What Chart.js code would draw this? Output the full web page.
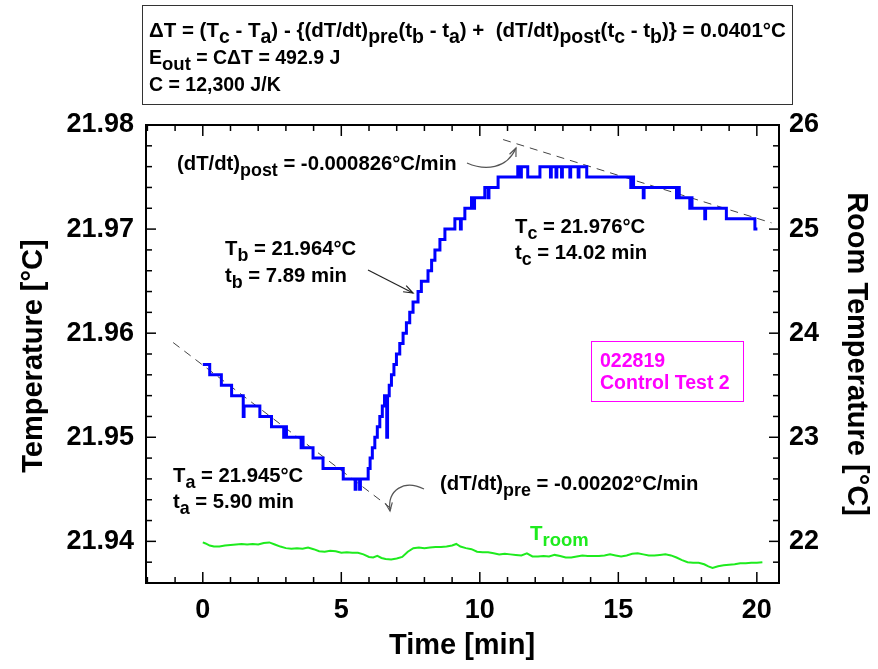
<!DOCTYPE html>
<html><head><meta charset="utf-8">
<script src="https://cdn.jsdelivr.net/npm/chart.js@4.4.1/dist/chart.umd.min.js"></script>
<style>html,body{margin:0;padding:0;background:#fff;}#wrap{width:878px;height:669px;}</style>
</head><body><div id="wrap"><canvas id="c" width="878" height="669"></canvas></div>
<script>
// ---- data ----
const tempTime = [0.00,0.25,0.67,1.04,1.46,1.49,2.06,2.48,2.92,2.95,3.02,3.55,3.58,3.62,3.98,4.34,5.07,5.50,5.53,5.66,5.69,
  5.97,6.04,6.12,6.21,6.30,6.39,6.48,6.56,6.64,6.67,6.73,6.81,6.90,6.99,7.11,7.23,7.35,7.47,7.59,7.77,7.89,8.13,8.26,8.38,8.56,8.74,
  9.10,9.30,9.33,9.46,9.70,9.78,9.81,10.18,10.30,10.33,10.66,11.37,11.45,11.50,11.73,12.17,12.55,12.58,12.75,12.78,12.95,12.98,
  13.25,13.28,13.55,13.58,13.86,15.45,15.50,15.55,15.90,15.93,17.10,17.15,17.20,17.58,17.62,17.66,18.12,18.15,18.90,19.93,20.02];
const tempValue = [21.957,21.956,21.955,21.954,21.952,21.953,21.952,21.951,21.950,21.951,21.950,21.949,21.950,21.949,21.948,21.947,21.946,21.945,21.946,21.945,21.946,
  21.947,21.948,21.949,21.950,21.951,21.952,21.953,21.954,21.950,21.954,21.955,21.956,21.957,21.958,21.959,21.960,21.961,21.962,21.963,21.964,21.965,21.966,21.967,21.968,21.969,21.970,
  21.971,21.970,21.971,21.972,21.973,21.972,21.973,21.974,21.973,21.974,21.975,21.976,21.975,21.976,21.975,21.976,21.975,21.976,21.975,21.976,21.975,21.976,
  21.975,21.976,21.975,21.976,21.975,21.974,21.975,21.974,21.973,21.974,21.973,21.974,21.973,21.972,21.973,21.972,21.971,21.972,21.971,21.970,21.970];
const roomTime = [0.00,0.10,0.25,0.40,0.60,0.80,1.00,1.20,1.40,1.60,1.80,2.00,2.20,2.40,2.60,2.80,3.00,3.20,3.40,3.60,3.80,4.00,4.20,4.40,4.60,4.80,
  5.00,5.20,5.40,5.60,5.80,6.00,6.15,6.30,6.45,6.60,6.80,7.00,7.20,7.40,7.60,7.80,8.00,8.20,8.40,8.60,8.80,9.00,9.15,9.30,9.50,9.70,9.90,
  10.10,10.30,10.50,10.70,10.90,11.10,11.30,11.50,11.70,11.90,12.10,12.30,12.50,12.70,12.90,13.10,13.30,13.50,13.70,13.90,14.10,14.30,14.50,14.70,14.90,
  15.10,15.30,15.50,15.70,15.90,16.10,16.30,16.50,16.70,16.90,17.10,17.30,17.50,17.70,17.90,18.10,18.25,18.40,18.60,18.80,19.00,19.20,19.40,19.60,19.80,20.00,20.20];
const roomValue = [21.99,21.98,21.96,21.95,21.95,21.96,21.965,21.97,21.975,21.97,21.975,21.97,21.985,21.99,21.97,21.95,21.935,21.93,21.935,21.93,21.94,21.925,21.905,21.90,21.91,21.905,
  21.89,21.895,21.89,21.89,21.875,21.85,21.845,21.86,21.84,21.83,21.825,21.835,21.85,21.90,21.935,21.94,21.935,21.94,21.945,21.945,21.95,21.96,21.975,21.95,21.935,21.925,21.90,
  21.895,21.895,21.885,21.875,21.88,21.875,21.87,21.865,21.885,21.855,21.855,21.86,21.855,21.87,21.86,21.845,21.845,21.855,21.865,21.86,21.86,21.86,21.865,21.875,21.865,
  21.855,21.865,21.88,21.885,21.875,21.865,21.865,21.87,21.875,21.865,21.845,21.82,21.80,21.795,21.795,21.78,21.76,21.745,21.76,21.77,21.775,21.78,21.79,21.79,21.795,21.795,21.80];
const preFitTime = [-1.07, 6.93];
const preFitValue = [21.9591, 21.9429];
const postFitTime = [10.84, 20.53];
const postFitValue = [21.9786, 21.9706];
const xTicks = [0,5,10,15,20];
const xTickLabels = ['0','5','10','15','20'];
const yTicks = [21.94,21.95,21.96,21.97,21.98];
const yTickLabels = ['21.94','21.95','21.96','21.97','21.98'];
const y2Ticks = [22,23,24,25,26];
const y2TickLabels = ['22','23','24','25','26'];

const FF = '"Liberation Sans", Arial, Helvetica, sans-serif';
const pts = (xs, ys) => xs.map((x, i) => ({x: x, y: ys[i]}));

function rich(ctx, x, y, str, size, color, align, subScale) {
  const parts = [];
  const re = /_\{([^}]*)\}/g; let last = 0, m;
  while ((m = re.exec(str)) !== null) {
    if (m.index > last) parts.push([str.slice(last, m.index), false]);
    parts.push([m[1], true]); last = re.lastIndex;
  }
  if (last < str.length) parts.push([str.slice(last), false]);
  const ss = size * (subScale || 0.88), off = size * 0.3;
  let w = 0;
  for (const [t, s] of parts) { ctx.font = 'bold ' + (s ? ss : size) + 'px ' + FF; w += ctx.measureText(t).width; }
  let cx = align === 'center' ? x - w / 2 : x;
  ctx.fillStyle = color; ctx.textAlign = 'left'; ctx.textBaseline = 'alphabetic';
  for (const [t, s] of parts) {
    ctx.font = 'bold ' + (s ? ss : size) + 'px ' + FF;
    ctx.fillText(t, cx, y + (s ? off : 0));
    cx += ctx.measureText(t).width;
  }
}
function arrowHead(ctx, x, y, ang, len, spread) {
  ctx.beginPath();
  ctx.moveTo(x - len * Math.cos(ang - spread), y - len * Math.sin(ang - spread));
  ctx.lineTo(x, y);
  ctx.lineTo(x - len * Math.cos(ang + spread), y - len * Math.sin(ang + spread));
  ctx.stroke();
}

const decor = {
  id: 'decor',
  afterDraw(chart) {
    const ctx = chart.ctx;
    const xa = chart.scales.x, ya = chart.scales.y, yb = chart.scales.y2;
    const {left, right, top, bottom} = chart.chartArea;
    ctx.save();
    // inward ticks
    ctx.strokeStyle = '#000'; ctx.lineWidth = 1.5;
    const ln = (a, b, c, d) => { ctx.beginPath(); ctx.moveTo(a, b); ctx.lineTo(c, d); ctx.stroke(); };
    for (let v = -2; v <= 20; v++) {
      const px = xa.getPixelForValue(v); const L = (v % 5 === 0) ? 11 : 6;
      ln(px, bottom, px, bottom - L); ln(px, top, px, top + L);
    }
    for (let k = 21936; k <= 21980; k += 2) {
      const py = ya.getPixelForValue(k / 1000); const L = (k % 10 === 0) ? 10 : 6;
      ln(left, py, left + L, py);
    }
    for (let k = 216; k <= 260; k += 2) {
      const py = yb.getPixelForValue(k / 10); const L = (k % 10 === 0) ? 10 : 6;
      ln(right, py, right - L, py);
    }
    // frame
    ctx.lineWidth = 2;
    ctx.strokeRect(left, top, right - left, bottom - top);

    // axis titles
    ctx.fillStyle = '#000';
    ctx.font = 'bold 29px ' + FF; ctx.textAlign = 'center'; ctx.textBaseline = 'middle';
    ctx.save(); ctx.translate(34, 356); ctx.rotate(-Math.PI / 2); ctx.fillText('Temperature [°C]', 0, 0); ctx.restore();
    ctx.save(); ctx.translate(856, 354); ctx.rotate(Math.PI / 2); ctx.fillText('Room Temperature [°C]', 0, 0); ctx.restore();
    ctx.fillText('Time [min]', 462, 646);

    // top equation box
    ctx.lineWidth = 1; ctx.strokeStyle = '#333';
    ctx.strokeRect(142.5, 5.5, 650, 99);
    rich(ctx, 149, 37, 'ΔT = (T_{c} - T_{a}) - {(dT/dt)_{pre}(t_{b} - t_{a}) +  (dT/dt)_{post}(t_{c} - t_{b})} = 0.0401°C', 20.5, '#000', 'left', 0.95);
    rich(ctx, 149, 64, 'E_{out} = CΔT = 492.9 J', 19.5, '#000', 'left', 0.95);
    rich(ctx, 149, 91, 'C = 12,300 J/K', 19.5, '#000', 'left');

    // annotations
    rich(ctx, 177, 170, '(dT/dt)_{post} = -0.000826°C/min', 20.3, '#000', 'left');
    rich(ctx, 225, 255, 'T_{b} = 21.964°C', 20.3, '#000', 'left');
    rich(ctx, 225, 282, 't_{b} = 7.89 min', 20.3, '#000', 'left');
    rich(ctx, 515, 233, 'T_{c} = 21.976°C', 20.3, '#000', 'left');
    rich(ctx, 515, 259, 't_{c} = 14.02 min', 20.3, '#000', 'left');
    rich(ctx, 173, 482, 'T_{a} = 21.945°C', 20.3, '#000', 'left');
    rich(ctx, 173, 508, 't_{a} = 5.90 min', 20.3, '#000', 'left');
    rich(ctx, 440, 490, '(dT/dt)_{pre} = -0.00202°C/min', 20.3, '#000', 'left');
    rich(ctx, 530, 540, 'T_{room}', 20.5, 'rgb(30,235,30)', 'left', 0.9);

    // magenta box
    ctx.strokeStyle = '#ff00ff'; ctx.lineWidth = 1;
    ctx.strokeRect(591.5, 341.5, 152, 60);
    ctx.fillStyle = '#ff00ff'; ctx.font = 'bold 19.5px ' + FF; ctx.textAlign = 'left'; ctx.textBaseline = 'alphabetic';
    ctx.fillText('022819', 600, 367);
    ctx.fillText('Control Test 2', 600, 389);

    // arrows
    ctx.strokeStyle = '#222'; ctx.lineWidth = 1.2;
    ln(368, 270, 413, 293);
    arrowHead(ctx, 413, 293, Math.atan2(23, 45), 10, 0.35);
    ctx.strokeStyle = '#555';
    ctx.beginPath(); ctx.moveTo(467, 163); ctx.bezierCurveTo(485, 171, 507, 169, 516, 148); ctx.stroke();
    arrowHead(ctx, 516, 148, Math.atan2(-21, 9), 9, 0.4);
    ctx.beginPath(); ctx.moveTo(424, 489); ctx.bezierCurveTo(404, 479, 387, 490, 390, 511); ctx.stroke();
    arrowHead(ctx, 390, 511, Math.atan2(21, 3), 9, 0.4);
    ctx.restore();
  }
};

const tickFont = {family: FF, size: 27, weight: 'bold'};
new Chart(document.getElementById('c'), {
  type: 'line',
  data: {
    datasets: [
      {label: 'pre fit', data: pts(preFitTime, preFitValue), yAxisID: 'y', borderColor: '#444', borderWidth: 1, borderDash: [8, 6], pointRadius: 0, order: 3},
      {label: 'post fit', data: pts(postFitTime, postFitValue), yAxisID: 'y', borderColor: '#444', borderWidth: 1, borderDash: [8, 6], pointRadius: 0, order: 3},
      {label: 'Troom', data: pts(roomTime, roomValue), yAxisID: 'y2', borderColor: 'rgb(30,235,30)', borderWidth: 2, pointRadius: 0, order: 2},
      {label: 'T', data: pts(tempTime, tempValue), yAxisID: 'y', borderColor: '#0000ff', borderWidth: 3, pointRadius: 0, stepped: true, order: 1}
    ]
  },
  options: {
    responsive: false, animation: false, devicePixelRatio: 1,
    layout: {padding: {top: 125, left: 0, right: 0, bottom: 0}},
    plugins: {legend: {display: false}, tooltip: {enabled: false}},
    scales: {
      x: {type: 'linear', min: -2.05, max: 20.8,
        afterBuildTicks: s => { s.ticks = xTicks.map(v => ({value: v})); },
        afterFit: s => { s.height = 86; },
        grid: {display: false, drawTicks: false}, border: {display: false},
        ticks: {font: tickFont, color: '#000', padding: 11, maxRotation: 0, autoSkip: false,
          callback: v => xTickLabels[xTicks.indexOf(v)]}},
      y: {type: 'linear', position: 'left', min: 21.936, max: 21.98,
        afterBuildTicks: s => { s.ticks = yTicks.map(v => ({value: v})); },
        afterFit: s => { s.width = 146; },
        grid: {display: false, drawTicks: false}, border: {display: false},
        ticks: {font: tickFont, color: '#000', padding: 12, autoSkip: false,
          callback: v => yTickLabels[yTicks.findIndex(t => Math.abs(t - v) < 1e-6)]}},
      y2: {type: 'linear', position: 'right', min: 21.6, max: 26,
        afterBuildTicks: s => { s.ticks = y2Ticks.map(v => ({value: v})); },
        afterFit: s => { s.width = 99; },
        grid: {display: false, drawTicks: false}, border: {display: false},
        ticks: {font: tickFont, color: '#000', padding: 10, autoSkip: false,
          callback: v => y2TickLabels[y2Ticks.indexOf(v)]}}
    }
  },
  plugins: [decor]
});
</script></body></html>
